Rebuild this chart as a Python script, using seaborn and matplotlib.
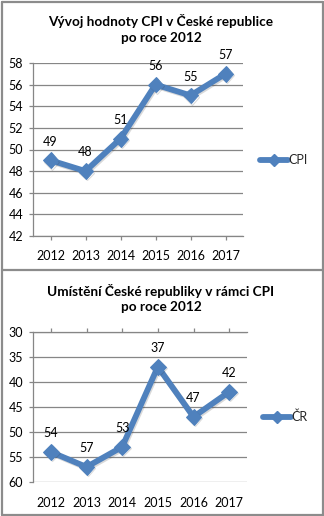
import matplotlib
matplotlib.use("Agg")
import matplotlib.pyplot as plt
import matplotlib.patheffects as pe
from matplotlib.lines import Line2D
import seaborn as sns
import pandas as pd

sns.set_theme(style="white")
plt.rcParams["font.family"] = ["Lato", "DejaVu Sans"]

years = ["2012", "2013", "2014", "2015", "2016", "2017"]
cpi_score = [49, 48, 51, 56, 55, 57]
cz_rank = [54, 57, 53, 37, 47, 42]

BLUE = "#4F81BD"
GRID = "#868686"
FRAME = "#8C8C8C"
TXT = "#000000"
FS = 9.0

fig = plt.figure(figsize=(3.24, 5.16), dpi=100)

# outer frame with a divider between the two panels
for (x0, y0, x1, y1) in [(1.5, 1.5, 1.5, 514.5), (322.5, 1.5, 322.5, 514.5),
                         (1.5, 1.5, 322.5, 1.5), (1.5, 514.5, 322.5, 514.5),
                         (1.5, 270, 322.5, 270)]:
    fig.add_artist(Line2D([x0 / 324, x1 / 324], [1 - y0 / 516, 1 - y1 / 516],
                          color=FRAME, lw=1.6, transform=fig.transFigure))

shadow = [pe.SimpleLineShadow(offset=(0.8, -1.0), alpha=0.18, shadow_color="#303030"),
          pe.Normal()]


def draw_panel(ax, values, label, title_y1, title_lines, ylim, yticks, invert):
    df = pd.DataFrame({"rok": years, "hodnota": values})
    sns.lineplot(data=df, x="rok", y="hodnota", ax=ax, color=BLUE, lw=4.2,
                 marker="D", markersize=8, markeredgecolor=BLUE, sort=False,
                 label=label, path_effects=shadow, legend=False)
    ax.set_xlim(-0.5, len(years) - 0.5)
    ax.set_ylim(*ylim)
    if invert:
        ax.invert_yaxis()
    ax.set_yticks(yticks)
    ax.set_yticklabels([str(v) for v in yticks])
    ax.set_xlabel("")
    ax.set_ylabel("")
    ax.grid(axis="y", color=GRID, lw=0.9)
    ax.grid(axis="x", visible=False)
    ax.set_axisbelow(True)
    for s in ax.spines.values():
        s.set_visible(False)
    ax.spines["left"].set_visible(True)
    ax.spines["left"].set_color(GRID)
    ax.spines["left"].set_linewidth(0.9)
    axis_side = "top" if invert else "bottom"
    ax.spines[axis_side].set_visible(True)
    ax.spines[axis_side].set_color(GRID)
    ax.spines[axis_side].set_linewidth(0.9)
    ax.tick_params(axis="y", left=True, length=3, width=0.9, color=GRID,
                   labelsize=FS, labelcolor=TXT, pad=4)
    if invert:
        ax.tick_params(axis="x", top=True, bottom=False, labeltop=False,
                       labelbottom=True, length=3, width=0.9, color=GRID,
                       labelsize=FS, labelcolor=TXT, pad=8)
    else:
        ax.tick_params(axis="x", bottom=True, length=3, width=0.9, color=GRID,
                       labelsize=FS, labelcolor=TXT, pad=7)
    for i, v in enumerate(values):
        ax.annotate(str(v), (i, v), xytext=(0, 13.5), textcoords="offset points",
                    ha="center", va="center", fontsize=FS, color=TXT)
    fig.text(161 / 324, 1 - title_y1 / 516, title_lines, ha="center", va="center",
             fontsize=9.8, fontweight="bold", color=TXT, linespacing=1.35)
    handle = Line2D([], [], color=BLUE, lw=4.2, marker="D", markersize=6,
                    markeredgecolor=BLUE)
    return handle


ax1 = fig.add_axes([33 / 324, 1 - 236 / 516, 210 / 324, 173 / 516])
h1 = draw_panel(ax1, cpi_score, "CPI", 29,
                "Vývoj hodnoty CPI v České republice\npo roce 2012",
                (42, 58), list(range(42, 59, 2)), False)
ax1.legend([h1], ["CPI"], loc="center left", bbox_to_anchor=(260 / 324, 1 - 160 / 516),
           bbox_transform=fig.transFigure, frameon=False, handlelength=2.2,
           handletextpad=0.05, fontsize=FS, borderaxespad=0, borderpad=0)

ax2 = fig.add_axes([33 / 324, 1 - 482 / 516, 214 / 324, 150.3 / 516])
h2 = draw_panel(ax2, cz_rank, "ČR", 298.5,
                "Umístění České republiky v rámci CPI\npo roce 2012",
                (30, 60), list(range(30, 61, 5)), True)
ax2.legend([h2], ["ČR"], loc="center left", bbox_to_anchor=(263 / 324, 1 - 417 / 516),
           bbox_transform=fig.transFigure, frameon=False, handlelength=2.2,
           handletextpad=0.05, fontsize=FS, borderaxespad=0, borderpad=0)

fig.savefig("out.png", dpi=100)
